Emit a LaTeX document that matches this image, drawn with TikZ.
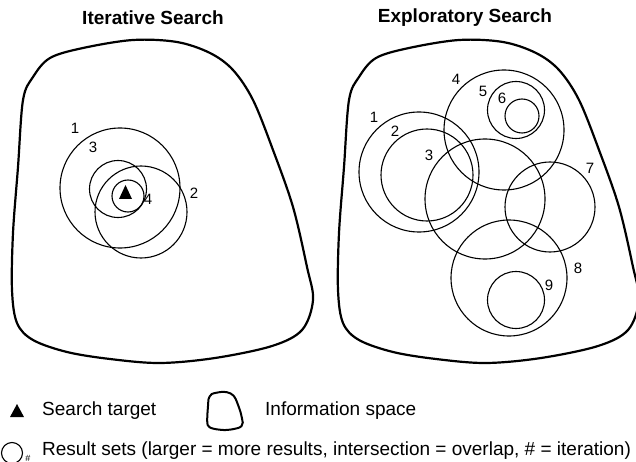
\documentclass[tikz,border=0pt]{standalone}
\usepackage{fontspec}
\setmainfont{Liberation Sans}
\usepackage{tikz}

% outline of one information space (pixel coordinates of the left panel)
\newcommand{\infospacepath}{plot[smooth cycle,tension=0.55] coordinates {
    (133,40) (177,42) (210,53) (233,70) (253,100) (273,150) (293,207)
    (307,267) (313,300) (302,330) (272,346) (215,358) (160,363) (110,359)
    (67,352) (33,340) (17,323) (12,290) (13,233) (18,167) (23,100)
    (33,77) (50,58) (83,48)}}

\begin{document}
\begin{tikzpicture}[x=1pt,y=-1pt,
    infospace/.style={line width=2.2pt,black},
    resultset/.style={line width=1.1pt,black},
    setlabel/.style={inner sep=0pt,font=\fontsize{15}{15}\selectfont},
    paneltitle/.style={inner sep=0pt,font=\bfseries\fontsize{19}{19}\selectfont},
    legendtext/.style={anchor=west,inner sep=0pt,font=\fontsize{19}{19}\selectfont}]
    \useasboundingbox (0,0) rectangle (636,462);

    % titles
    \node[paneltitle] (itertitle) at (153,18) {Iterative Search};
    \node[paneltitle] (explotitle) at (465,18) {Exploratory Search};

    % information spaces
    \draw[infospace] \infospacepath;
    \draw[infospace,xshift=326pt] \infospacepath;

    % iterative search
    \coordinate (i1) at (120,188);
    \coordinate (i2) at (141,212);
    \coordinate (i3) at (118,189);
    \coordinate (i4) at (128,196);
    \draw[resultset] (i1) circle (60);
    \draw[resultset] (i2) circle (46);
    \draw[resultset] (i3) circle (28.5);
    \draw[resultset] (i4) circle (16);
    \fill[black] (119,199) -- (132,199) -- (125.5,185) -- cycle;
    \node[setlabel] (li1) at (75,128) {1};
    \node[setlabel] (li2) at (194,193) {2};
    \node[setlabel] (li3) at (93,147) {3};
    \node[setlabel] (li4) at (148,199) {4};

    % exploratory search
    \coordinate (e1) at (419,172);
    \coordinate (e2) at (427,175);
    \coordinate (e3) at (485,199);
    \coordinate (e4) at (504,130);
    \coordinate (e5) at (516,110);
    \coordinate (e6) at (522,116);
    \coordinate (e7) at (550,207);
    \coordinate (e8) at (509,278);
    \coordinate (e9) at (516,300);
    \draw[resultset] (e1) circle (60);
    \draw[resultset] (e2) circle (46);
    \draw[resultset] (e3) circle (60);
    \draw[resultset] (e4) circle (60);
    \draw[resultset] (e5) circle (28.5);
    \draw[resultset] (e6) circle (17);
    \draw[resultset] (e7) circle (45);
    \draw[resultset] (e8) circle (58);
    \draw[resultset] (e9) circle (28.5);
    \node[setlabel] (le1) at (374,117) {1};
    \node[setlabel] (le2) at (395,131) {2};
    \node[setlabel] (le3) at (429,155) {3};
    \node[setlabel] (le4) at (456,79) {4};
    \node[setlabel] (le5) at (483,91) {5};
    \node[setlabel] (le6) at (502,98) {6};
    \node[setlabel] (le7) at (590,168) {7};
    \node[setlabel] (le8) at (578,268) {8};
    \node[setlabel] (le9) at (549,285) {9};

    % legend
    \fill[black] (10,417) -- (24,417) -- (17,404) -- cycle;
    \node[legendtext] (targettext) at (42,411) {Search target};
    \begin{scope}[shift={(225,411)},scale=0.118,shift={(-162.5,-201.5)}]
        \draw[line width=2pt,black] \infospacepath;
    \end{scope}
    \node[legendtext] (spacetext) at (265,411) {Information space};
    \draw[resultset] (12,453) circle (10.5);
    \node[inner sep=0pt,font=\fontsize{9}{9}\selectfont] (itersign) at (28,458) {\#};
    \node[legendtext] (settext) at (42,451) {Result sets (larger = more results, intersection = overlap, \# = iteration)};
\end{tikzpicture}
\end{document}
